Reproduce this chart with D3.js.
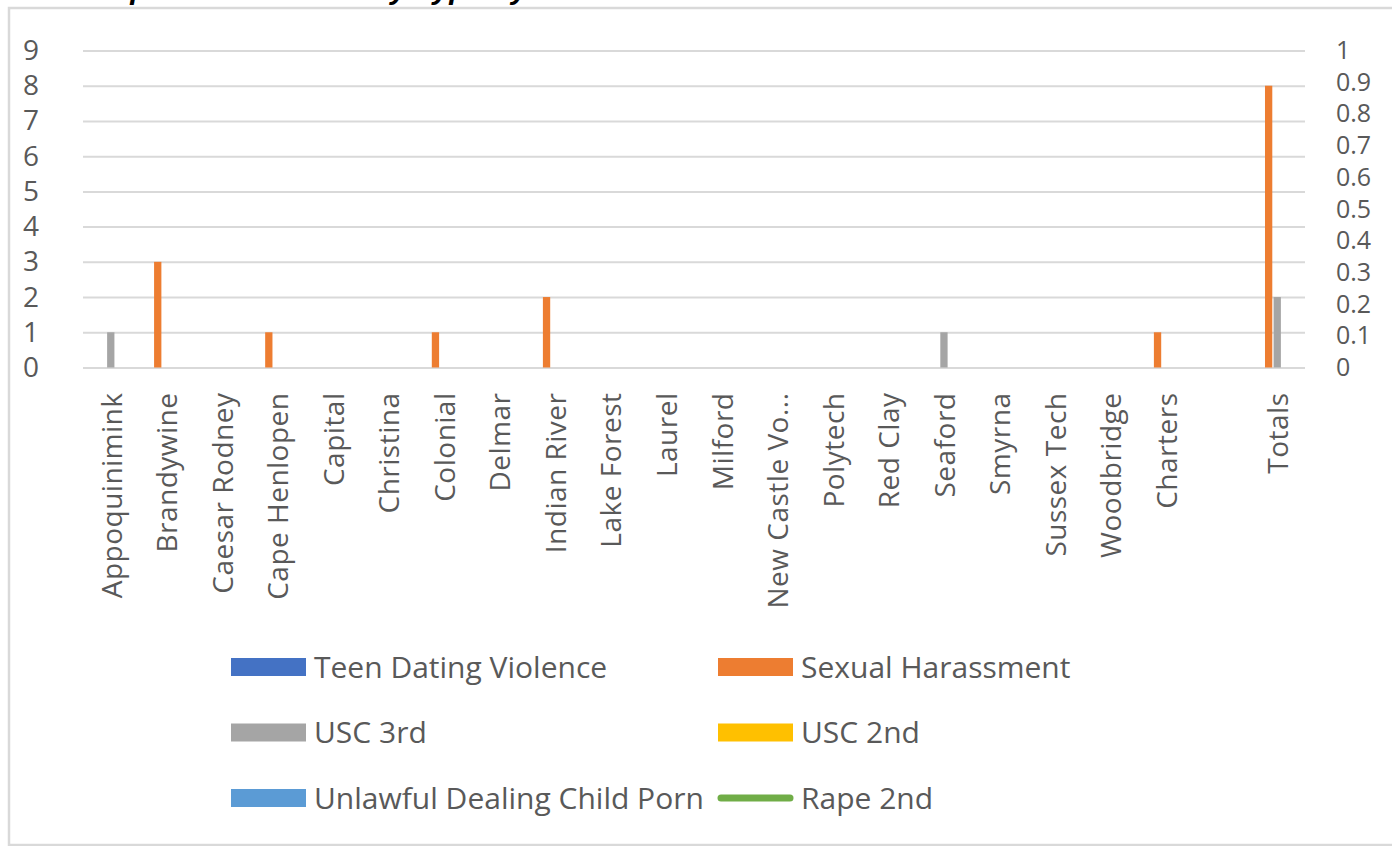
<!DOCTYPE html>
<html>
<head>
<meta charset="utf-8">
<script src="https://cdn.jsdelivr.net/npm/d3@7"></script>
<style>
  body { margin: 0; background: #ffffff; }
  text { font-family: "Open Sans", "Noto Sans", sans-serif; fill: #595959; }
</style>
</head>
<body>
<div id="chart"></div>
<script>
// data
var categories = ["Appoquinimink", "Brandywine", "Caesar Rodney", "Cape Henlopen", "Capital",
  "Christina", "Colonial", "Delmar", "Indian River", "Lake Forest", "Laurel", "Milford",
  "New Castle Vo...", "Polytech", "Red Clay", "Seaford", "Smyrna", "Sussex Tech",
  "Woodbridge", "Charters", "", "Totals"];

var teenDating  = [0,0,0,0,0,0,0,0,0,0,0,0,0,0,0,0,0,0,0,0,null,0];
var sexHarass   = [0,3,0,1,0,0,1,0,2,0,0,0,0,0,0,0,0,0,0,1,null,8];
var usc3rd      = [1,0,0,0,0,0,0,0,0,0,0,0,0,0,0,1,0,0,0,0,null,2];
var usc2nd      = [0,0,0,0,0,0,0,0,0,0,0,0,0,0,0,0,0,0,0,0,null,0];
var childPorn   = [0,0,0,0,0,0,0,0,0,0,0,0,0,0,0,0,0,0,0,0,null,0];
var rape2nd     = [null,null,null,null,null,null,null,null,null,null,null,null,null,null,null,null,null,null,null,null,null,null];

var leftTicks  = [0,1,2,3,4,5,6,7,8,9];
var rightTicks = [0,0.1,0.2,0.3,0.4,0.5,0.6,0.7,0.8,0.9,1];

var barSeries = [
  {name: "Teen Dating Violence", values: teenDating, color: "#4472c4"},
  {name: "Sexual Harassment", values: sexHarass, color: "#ed7d31"},
  {name: "USC 3rd", values: usc3rd, color: "#a5a5a5"},
  {name: "USC 2nd", values: usc2nd, color: "#ffc000"},
  {name: "Unlawful Dealing Child Porn", values: childPorn, color: "#5b9bd5"}
];
var lineSeries = {name: "Rape 2nd", values: rape2nd, color: "#70ad47"};

var width = 1392, height = 846;
var plot = {left: 83, right: 1305, top: 50.5, bottom: 367.5};

var svg = d3.select("#chart")
  .append("svg")
    .attr("width", width)
    .attr("height", height);

// chart frame (runs off the right and bottom of the picture)
svg.append("rect")
    .attr("x", 9).attr("y", 8)
    .attr("width", 1420).attr("height", 837)
    .attr("fill", "#ffffff")
    .attr("stroke", "#d9d9d9")
    .attr("stroke-width", 2.5);

// title, cut off by the top of the picture like in the reference
svg.append("text")
    .attr("x", 92)
    .attr("y", -1)
    .style("font-family", "'Liberation Sans', sans-serif")
    .style("font-weight", "bold")
    .style("font-style", "italic")
    .style("font-size", "30px")
    .style("fill", "#000000")
    .text("Reported Incidents by Type by District");

// scales
var x0 = d3.scaleBand()
    .domain(d3.range(categories.length))
    .range([plot.left, plot.right])
    .paddingInner(0.25)
    .paddingOuter(0.125);

var x1 = d3.scaleBand()
    .domain(barSeries.map(function(d) { return d.name; }))
    .range([0, x0.bandwidth()])
    .paddingInner(0.15);

var y = d3.scaleLinear().domain([0, 9]).range([plot.bottom, plot.top]);
var y2 = d3.scaleLinear().domain([0, 1]).range([plot.bottom, plot.top]);

// gridlines
svg.append("g")
    .attr("transform", "translate(" + plot.left + ",0)")
    .call(d3.axisLeft(y).tickValues(leftTicks).tickSize(-(plot.right - plot.left)).tickFormat(""))
    .call(function(g) { g.select(".domain").remove(); })
    .selectAll("line")
      .attr("stroke", "#d9d9d9")
      .attr("stroke-width", 2);

// left axis labels
svg.append("g")
    .attr("transform", "translate(39,0)")
    .call(d3.axisLeft(y).tickValues(leftTicks).tickSize(0).tickPadding(0))
    .call(function(g) { g.select(".domain").remove(); })
    .selectAll("text")
      .style("font-size", "28px")
      .attr("fill", "#595959");

// right axis labels
svg.append("g")
    .attr("transform", "translate(1336,0)")
    .call(d3.axisRight(y2).tickValues(rightTicks).tickSize(0).tickPadding(0).tickFormat(function(d) { return d3.format("")(+d.toFixed(1)); }))
    .call(function(g) { g.select(".domain").remove(); })
    .selectAll("text")
      .style("font-size", "25px")
      .attr("fill", "#595959");

// category labels, rotated
svg.append("g")
    .attr("transform", "translate(0," + (plot.bottom + 25) + ")")
    .call(d3.axisBottom(x0).tickSize(0).tickPadding(0).tickFormat(function(i) { return categories[i]; }))
    .call(function(g) { g.select(".domain").remove(); })
    .selectAll("text")
      .style("font-size", "28px")
      .style("letter-spacing", "0.5px")
      .attr("fill", "#595959")
      .attr("text-anchor", "end")
      .attr("dy", "0.35em")
      .attr("transform", function() { return "rotate(-90)"; })
      .attr("x", 0)
      .attr("y", 1);

// bars
var groups = svg.selectAll(".group")
    .data(categories.map(function(c, i) { return i; }))
    .enter().append("g")
      .attr("class", "group")
      .attr("transform", function(i) { return "translate(" + x0(i) + ",0)"; });

groups.selectAll("rect")
    .data(function(i) {
      return barSeries.map(function(s) { return {name: s.name, color: s.color, value: s.values[i]}; });
    })
    .enter().append("rect")
      .filter(function(d) { return d.value; })
      .attr("x", function(d) { return x1(d.name); })
      .attr("y", function(d) { return y(d.value); })
      .attr("width", x1.bandwidth())
      .attr("height", function(d) { return y(0) - y(d.value); })
      .attr("fill", function(d) { return d.color; });

// line series on the secondary axis (no values)
var line = d3.line()
    .defined(function(d) { return d != null; })
    .x(function(d, i) { return x0(i) + x0.bandwidth() / 2; })
    .y(function(d) { return y2(d); });

svg.append("path")
    .datum(lineSeries.values)
    .attr("fill", "none")
    .attr("stroke", lineSeries.color)
    .attr("stroke-width", 5)
    .attr("d", line);

// legend
var legendItems = barSeries.map(function(s) { return {name: s.name, color: s.color, type: "bar"}; })
    .concat([{name: lineSeries.name, color: lineSeries.color, type: "line"}]);

var legend = svg.selectAll(".legend")
    .data(legendItems)
    .enter().append("g")
      .attr("class", "legend")
      .attr("transform", function(d, i) {
        var col = i % 2, row = Math.floor(i / 2);
        return "translate(" + (col === 0 ? 231 : 718) + "," + (667 + row * 65.5) + ")";
      });

legend.filter(function(d) { return d.type === "bar"; })
  .append("rect")
    .attr("x", 0).attr("y", -9)
    .attr("width", 75).attr("height", 18)
    .attr("fill", function(d) { return d.color; });

legend.filter(function(d) { return d.type === "line"; })
  .append("line")
    .attr("x1", 3).attr("x2", 72)
    .attr("y1", 0).attr("y2", 0)
    .attr("stroke", function(d) { return d.color; })
    .attr("stroke-width", 7)
    .attr("stroke-linecap", "round");

legend.append("text")
    .attr("x", 83)
    .attr("dy", "0.35em")
    .style("font-size", "30px")
    .text(function(d) { return d.name; });
</script>
</body>
</html>
